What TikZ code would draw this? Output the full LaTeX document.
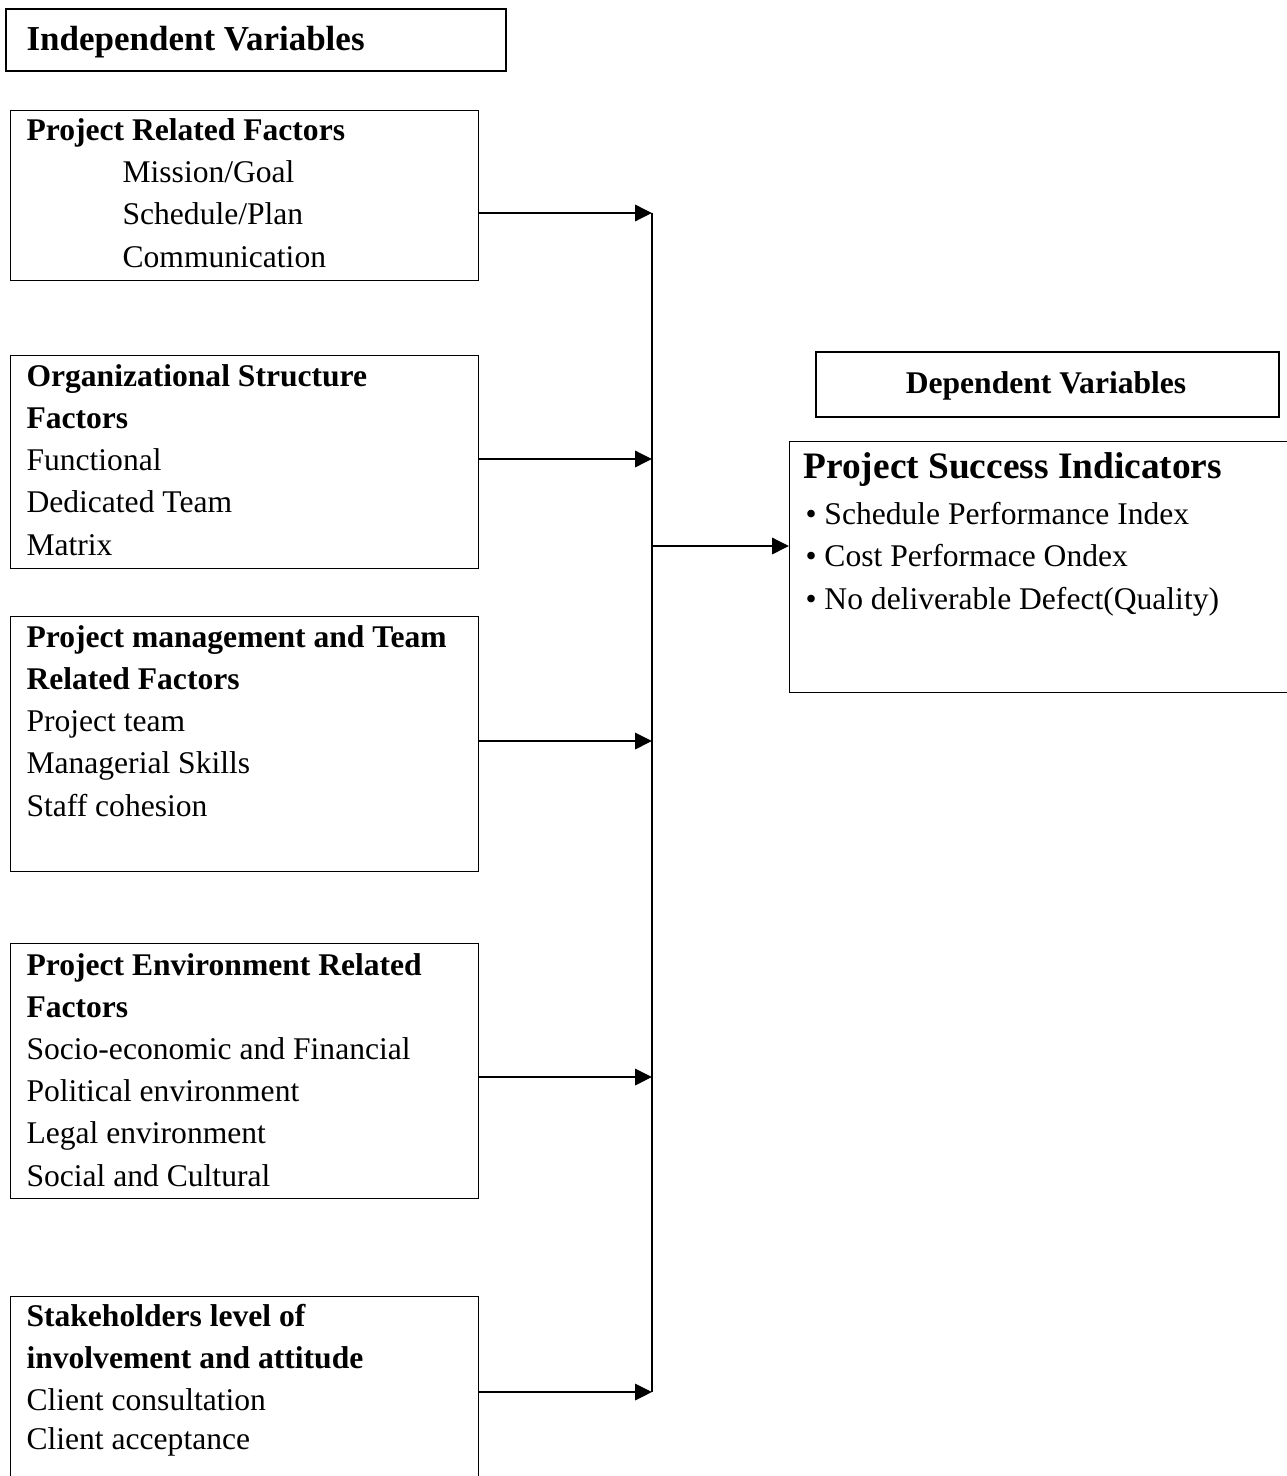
\documentclass[tikz,border=0pt]{standalone}
\usepackage{fontspec}
\setmainfont{Liberation Serif}
\usetikzlibrary{arrows.meta,positioning}
\newcommand{\pxu}{0.38pt}

\begin{document}
\begin{tikzpicture}[
			x=0.38pt,y=-0.38pt,
			box/.style={
				draw,
				line width=0.55pt,
				anchor=north west,
				inner sep=0pt
			},
			headbox/.style={box,line width=0.9pt},
			txt/.style={
				anchor=base west,
				align=left,
				inner sep=0pt,
				font=\fontsize{12}{16}\selectfont
			},
			arr/.style={-{Triangle[length=6.4pt,width=6.2pt]},line width=0.75pt},
			bus/.style={line width=0.75pt}
			]
			\useasboundingbox (0,0) rectangle (1286,1476);
			% headers
			\node[headbox,minimum width=500*\pxu,minimum height=62*\pxu](indep) at (5,8){};
			\node[txt,font=\fontsize{13.3}{16}\selectfont\bfseries](indeptxt) at (26,51){Independent Variables};
			\node[headbox,minimum width=463*\pxu,minimum height=65*\pxu](dep) at (815,351){};
			\node[txt,anchor=base,font=\fontsize{12}{16}\selectfont\bfseries](deptxt) at (1046,393){Dependent Variables};
			% factor boxes (text placed by its last baseline)
			\node[box,minimum width=468*\pxu,minimum height=170*\pxu](proj) at (10,110){};
			\node[txt](projtxt) at (26,267){\textbf{Project Related Factors}\\
				\hspace*{36.5pt}Mission/Goal\\
				\hspace*{36.5pt}Schedule/Plan\\
				\hspace*{36.5pt}Communication};
			\node[box,minimum width=468*\pxu,minimum height=213*\pxu](org) at (10,355){};
			\node[txt](orgtxt) at (26,555){\textbf{Organizational Structure}\\
				\textbf{Factors}\\
				Functional\\
				Dedicated Team\\
				Matrix};
			\node[box,minimum width=468*\pxu,minimum height=255*\pxu](team) at (10,616){};
			\node[txt](teamtxt) at (26,816){\textbf{Project management and Team}\\
				\textbf{Related Factors}\\
				Project team\\
				Managerial Skills\\
				Staff cohesion};
			\node[box,minimum width=468*\pxu,minimum height=255*\pxu](env) at (10,943){};
			\node[txt](envtxt) at (26,1186){\textbf{Project Environment Related}\\
				\textbf{Factors}\\
				Socio-economic and Financial\\
				Political environment\\
				Legal environment\\
				Social and Cultural};
			\node[box,minimum width=468*\pxu,minimum height=200*\pxu](stake) at (10,1296){};
			\node[txt](staketxt) at (26,1449){\textbf{Stakeholders level of}\\
				\textbf{involvement and attitude}\\
				Client consultation\\[-1.4pt]
				Client acceptance};
			% outcome box
			\node[box,minimum width=520*\pxu,minimum height=251*\pxu](succ) at (789,441){};
			\node[txt](succtxt) at (803,478){\fontsize{14.2}{16}\selectfont\textbf{Project Success Indicators}};
			\node[txt](succlist) at (805,609){\textbullet\ Schedule Performance Index\\
				\textbullet\ Cost Performace Ondex\\
				\textbullet\ No deliverable Defect(Quality)};
			% connectors
			\coordinate(b1) at (652,213);
			\coordinate(b2) at (652,459);
			\coordinate(b3) at (652,741);
			\coordinate(b4) at (652,1077);
			\coordinate(b5) at (652,1392);
			\coordinate(bm) at (652,546);
			\draw[bus](b1)--(b5);
			\draw[arr](proj.east |- b1)--(b1);
			\draw[arr](org.east |- b2)--(b2);
			\draw[arr](team.east |- b3)--(b3);
			\draw[arr](env.east |- b4)--(b4);
			\draw[arr](stake.east |- b5)--(b5);
			\draw[arr](bm)--(succ.west |- bm);
		\end{tikzpicture}
\end{document}
